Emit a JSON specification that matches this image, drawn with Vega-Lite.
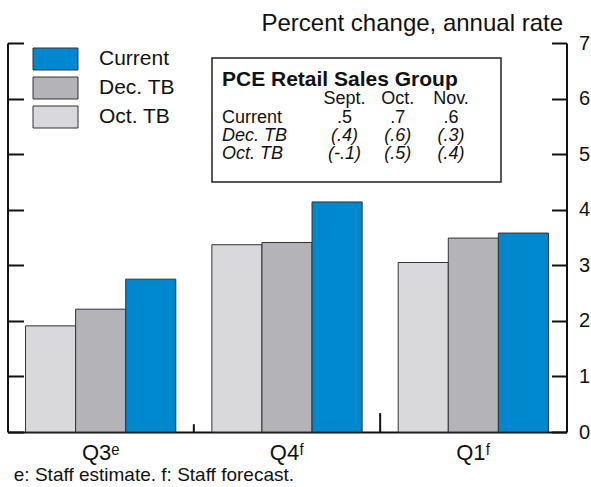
{
  "$schema": "https://vega.github.io/schema/vega-lite/v6.json",
  "width": 559,
  "height": 389,
  "autosize": "none",
  "padding": {"left": 7.5, "top": 43, "right": 24.5, "bottom": 55},
  "background": "white",
  "config": {
    "font": "Liberation Sans",
    "view": {"stroke": null},
    "axis": {"labelFont": "Liberation Sans", "titleFont": "Liberation Sans"},
    "legend": {"labelFont": "Liberation Sans"}
  },
  "datasets": {
    "bars": [
      {"quarter": "Q3ᵉ", "series": "Oct. TB", "value": 1.91},
      {"quarter": "Q3ᵉ", "series": "Dec. TB", "value": 2.21},
      {"quarter": "Q3ᵉ", "series": "Current", "value": 2.75},
      {"quarter": "Q4ᶠ", "series": "Oct. TB", "value": 3.37},
      {"quarter": "Q4ᶠ", "series": "Dec. TB", "value": 3.41},
      {"quarter": "Q4ᶠ", "series": "Current", "value": 4.14},
      {"quarter": "Q1ᶠ", "series": "Oct. TB", "value": 3.05},
      {"quarter": "Q1ᶠ", "series": "Dec. TB", "value": 3.49},
      {"quarter": "Q1ᶠ", "series": "Current", "value": 3.58}
    ],
    "dividers": [
      {"quarter": "Q4ᶠ", "height": 0.14},
      {"quarter": "Q1ᶠ", "height": 0.34}
    ],
    "table": [
      {"row": "title", "col": "label", "text": "PCE Retail Sales Group"},
      {"row": "header", "col": "Sept.", "text": "Sept."},
      {"row": "header", "col": "Oct.", "text": "Oct."},
      {"row": "header", "col": "Nov.", "text": "Nov."},
      {"row": "Current", "col": "label", "text": "Current"},
      {"row": "Current", "col": "Sept.", "text": ".5"},
      {"row": "Current", "col": "Oct.", "text": ".7"},
      {"row": "Current", "col": "Nov.", "text": ".6"},
      {"row": "Dec. TB", "col": "label", "text": "Dec. TB"},
      {"row": "Dec. TB", "col": "Sept.", "text": "(.4)"},
      {"row": "Dec. TB", "col": "Oct.", "text": "(.6)"},
      {"row": "Dec. TB", "col": "Nov.", "text": "(.3)"},
      {"row": "Oct. TB", "col": "label", "text": "Oct. TB"},
      {"row": "Oct. TB", "col": "Sept.", "text": "(-.1)"},
      {"row": "Oct. TB", "col": "Oct.", "text": "(.5)"},
      {"row": "Oct. TB", "col": "Nov.", "text": "(.4)"}
    ]
  },
  "layer": [
    {
      "layer": [
        {
          "data": {"name": "bars"},
          "mark": {"type": "bar", "stroke": "#333333", "strokeWidth": 1},
          "encoding": {
            "x": {
              "field": "quarter", "type": "nominal",
              "sort": ["Q3ᵉ", "Q4ᶠ", "Q1ᶠ"],
              "scale": {"paddingInner": 0, "paddingOuter": 0},
              "axis": {
                "title": "e: Staff estimate. f: Staff forecast.",
                "labelAngle": 0, "ticks": false, "domain": true,
                "domainColor": "#111111", "domainWidth": 2,
                "labelFontSize": 22, "labelPadding": 10, "labelColor": "#111111",
                "titleFontSize": 19, "titleFontWeight": "normal",
                "titleAnchor": "start", "titleAlign": "left", "titleBaseline": "alphabetic",
                "titleX": 5.8, "titleY": 48.5, "titleColor": "#111111", "grid": false
              }
            },
            "xOffset": {
              "field": "series", "type": "nominal",
              "sort": ["Oct. TB", "Dec. TB", "Current"],
              "scale": {"paddingInner": 0, "paddingOuter": 0.36}
            },
            "y": {
              "field": "value", "type": "quantitative",
              "scale": {"domain": [0, 7], "nice": false, "zero": true},
              "axis": {
                "orient": "left", "title": null, "labels": false,
                "values": [0, 1, 2, 3, 4, 5, 6, 7],
                "tickSize": -16, "tickWidth": 2, "tickColor": "#111111",
                "domainWidth": 2, "domainColor": "#111111", "grid": false
              }
            },
            "color": {
              "field": "series", "type": "nominal",
              "scale": {"domain": ["Current", "Dec. TB", "Oct. TB"], "range": ["#0088CF", "#B4B4B8", "#D9D9DB"]},
              "legend": {
                "orient": "none", "legendX": 36.5, "legendY": 4.5, "title": null,
                "symbolType": "M-2.045,-1H2.045V1H-2.045Z", "symbolSize": 484,
                "symbolStrokeColor": "#333333", "symbolStrokeWidth": 1,
                "labelFontSize": 21, "labelOffset": 32, "labelColor": "#111111",
                "rowPadding": 2, "padding": 0
              }
            }
          }
        },
        {
          "data": {"name": "dividers"},
          "mark": {"type": "rule", "strokeWidth": 2, "color": "#111111"},
          "encoding": {
            "x": {"field": "quarter", "type": "nominal", "sort": ["Q3ᵉ", "Q4ᶠ", "Q1ᶠ"], "bandPosition": 0},
            "y": {
              "field": "height", "type": "quantitative",
              "scale": {"domain": [0, 7], "nice": false},
              "axis": {
                "orient": "right", "values": [0, 1, 2, 3, 4, 5, 6, 7],
                "tickSize": -15, "tickWidth": 2, "tickColor": "#111111",
                "domainWidth": 2, "domainColor": "#111111",
                "labelFontSize": 20, "labelPadding": 27, "labelColor": "#111111", "grid": false,
                "title": "Percent change, annual rate", "titleAngle": 0,
                "titleAlign": "right", "titleBaseline": "alphabetic",
                "titleX": -4, "titleY": -13, "titleFontSize": 24,
                "titleFontWeight": "normal", "titleColor": "#111111"
              }
            },
            "y2": {"datum": 0}
          }
        }
      ],
      "resolve": {"axis": {"y": "independent"}}
    },
    {
      "data": {"values": [{}]},
      "mark": {"type": "rect", "fill": "white", "stroke": "#222222", "strokeWidth": 1.5},
      "encoding": {
        "x": {"datum": 1.0975, "type": "quantitative", "scale": {"domain": [0, 3], "nice": false}, "axis": null},
        "x2": {"datum": 2.6485},
        "y": {"datum": 6.73, "type": "quantitative", "scale": {"domain": [0, 7], "nice": false}, "axis": null},
        "y2": {"datum": 4.499}
      }
    },
    {
      "data": {"name": "table"},
      "encoding": {
        "y": {
          "field": "row", "type": "nominal",
          "scale": {"type": "point", "domain": ["title", "header", "Current", "Dec. TB", "Oct. TB"], "range": [43, 116], "padding": 0},
          "axis": null
        }
      },
      "layer": [
        {
          "encoding": {
            "x": {"datum": 1.151, "type": "quantitative", "scale": {"domain": [0, 3], "nice": false}, "axis": null}
          },
          "layer": [
            {
              "transform": [{"filter": "datum.row == 'title'"}],
              "mark": {"type": "text", "align": "left", "baseline": "alphabetic", "fontSize": 21, "fontWeight": "bold", "color": "#111111"},
              "encoding": {"text": {"field": "text"}}
            },
            {
              "transform": [{"filter": "datum.col == 'label' && datum.row == 'Current'"}],
              "mark": {"type": "text", "align": "left", "baseline": "alphabetic", "fontSize": 18, "color": "#111111"},
              "encoding": {"text": {"field": "text"}}
            },
            {
              "transform": [{"filter": "datum.col == 'label' && (datum.row == 'Dec. TB' || datum.row == 'Oct. TB')"}],
              "mark": {"type": "text", "align": "left", "baseline": "alphabetic", "fontSize": 18, "fontStyle": "italic", "color": "#111111"},
              "encoding": {"text": {"field": "text"}}
            }
          ]
        },
        {
          "transform": [{"filter": "datum.col != 'label'"}],
          "encoding": {
            "x": {
              "field": "col", "type": "nominal",
              "scale": {"type": "point", "domain": ["Sept.", "Oct.", "Nov."], "range": [337, 443.5], "padding": 0},
              "axis": null
            }
          },
          "layer": [
            {
              "transform": [{"filter": "datum.row == 'header' || datum.row == 'Current'"}],
              "mark": {"type": "text", "align": "center", "baseline": "alphabetic", "fontSize": 18, "color": "#111111"},
              "encoding": {"text": {"field": "text"}}
            },
            {
              "transform": [{"filter": "datum.row == 'Dec. TB' || datum.row == 'Oct. TB'"}],
              "mark": {"type": "text", "align": "center", "baseline": "alphabetic", "fontSize": 18, "fontStyle": "italic", "color": "#111111"},
              "encoding": {"text": {"field": "text"}}
            }
          ]
        }
      ],
      "resolve": {"scale": {"x": "independent"}}
    }
  ],
  "resolve": {"scale": {"x": "independent", "y": "independent", "xOffset": "independent"}}
}
